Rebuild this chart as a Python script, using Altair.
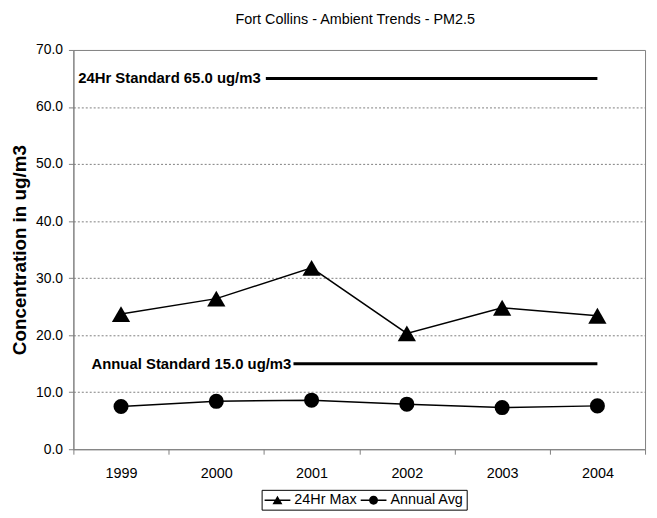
import altair as alt
import pandas as pd

# ---- data ----
years = [1999, 2000, 2001, 2002, 2003, 2004]
max_24hr = [23.7, 26.4, 31.8, 20.3, 24.8, 23.4]
annual_avg = [7.5, 8.4, 8.6, 7.9, 7.3, 7.6]
series_names = ["24Hr Max", "Annual Avg"]

std_labels = ["24Hr Standard 65.0 ug/m3", "Annual Standard 15.0 ug/m3"]
std_values = [65.0, 15.0]
std_label_x = [1998.55, 1998.69]
std_line_start = [2000.52, 2000.81]
std_line_end = [2004.0, 2004.0]

y_ticks = [0, 10, 20, 30, 40, 50, 60, 70]
x_ticks = [1998.5, 1999, 1999.5, 2000, 2000.5, 2001, 2001.5, 2002,
           2002.5, 2003, 2003.5, 2004, 2004.5]

FONT = "Liberation Sans, Arial, sans-serif"
GRAY = "#808080"

rows = []
for y, a, b in zip(years, max_24hr, annual_avg):
    rows.append({"year": y, "value": a, "series": series_names[0]})
    rows.append({"year": y, "value": b, "series": series_names[1]})
df = pd.DataFrame(rows)

std_df = pd.DataFrame({
    "label": std_labels,
    "value": std_values,
    "label_x": std_label_x,
    "start": std_line_start,
    "end": std_line_end,
})

xscale = alt.Scale(domain=[1998.5, 2004.5], nice=False, zero=False)
yscale = alt.Scale(domain=[0, 70], nice=False)

xaxis = alt.Axis(
    values=x_ticks,
    labelExpr="datum.value % 1 == 0 ? format(datum.value, 'd') : ''",
    tickOpacity={"condition": {"test": "datum.value % 1 != 0", "value": 1}, "value": 0},
    tickSize=5, tickColor=GRAY, domainColor=GRAY,
    grid=False, title=None, labelOverlap=False, labelFlush=False,
    labelFont=FONT, labelFontSize=14.5, labelColor="black", labelPadding=13,
)
yaxis = alt.Axis(
    values=y_ticks, format=".1f",
    tickSize=5, tickColor=GRAY, domainColor=GRAY,
    labelFont=FONT, labelFontSize=14, labelColor="black", labelPadding=6,
    grid=True, gridColor=GRAY, gridDash=[2, 2], gridWidth=1,
    gridOpacity={"condition": {"test": "datum.value == 0 || datum.value == 70", "value": 0}, "value": 1},
    title="Concentration in ug/m3", titleFont=FONT, titleFontSize=19,
    titleFontWeight="bold", titleColor="black", titlePadding=6,
)

X = alt.X("year:Q", scale=xscale, axis=xaxis)
Y = alt.Y("value:Q", scale=yscale, axis=yaxis)

base = alt.Chart(df).encode(x=X, y=Y)

lines = base.mark_line(color="black", strokeWidth=1.5).encode(detail="series:N")

points = base.mark_point(filled=True, color="black", opacity=1).encode(
    shape=alt.Shape("series:N",
                    scale=alt.Scale(domain=series_names, range=["triangle-up", "circle"]),
                    legend=None),
    size=alt.Size("series:N",
                  scale=alt.Scale(domain=series_names, range=[340, 230]),
                  legend=None),
)

# legend glyphs: a thin bar (the line) with the marker on it, all as filled shapes
tri_path = ("M-1,-0.1L2.47,-0.1L2.47,0.1L-1,0.1Z"
            "M0.73,-0.62L1.4,0.55L0.06,0.55Z")
circ_path = ("M-1,-0.1L2.47,-0.1L2.47,0.1L-1,0.1Z"
             "M1.33,0A0.6,0.6,0,1,1,0.13,0A0.6,0.6,0,1,1,1.33,0Z")

# legend-only layer: no rows drawn, the legend comes from the explicit domain
legend_layer = base.transform_filter("false").mark_point(
    filled=True, color="black", opacity=1
).encode(
    shape=alt.Shape("series:N",
                    scale=alt.Scale(domain=series_names, range=[tri_path, circ_path]),
                    legend=alt.Legend(
                        title=None, orient="none", direction="horizontal",
                        legendX=190, legendY=444,
                        strokeColor="black", padding=3,
                        labelFont=FONT, labelFontSize=14.5, labelColor="black",
                        symbolSize=225,
                        symbolFillColor="black", symbolStrokeColor="black",
                        symbolStrokeWidth=0,
                        labelOffset=15, columnPadding=4,
                    ))
)

std_rules = alt.Chart(std_df).mark_rule(color="black", strokeWidth=3).encode(
    x=alt.X("start:Q", scale=xscale, axis=xaxis),
    x2="end:Q",
    y=alt.Y("value:Q", scale=yscale, axis=yaxis),
)

std_text = alt.Chart(std_df).mark_text(
    align="left", baseline="middle", font=FONT, fontSize=15,
    fontWeight="bold", color="black",
).encode(
    x=alt.X("label_x:Q", scale=xscale, axis=xaxis),
    y=alt.Y("value:Q", scale=yscale, axis=yaxis),
    text="label:N",
)

chart = alt.layer(std_rules, std_text, lines, points, legend_layer).resolve_scale(
    shape="independent"
).properties(
    width=577, height=403,
    autosize="none",
    padding={"left": 66, "top": 40, "right": 4, "bottom": 60},
    title=alt.TitleParams(
        "Fort Collins - Ambient Trends - PM2.5",
        font=FONT, fontSize=14.5, fontWeight="normal", color="black",
        anchor="middle", offset=16, dx=-4,
    ),
).configure_view(stroke=GRAY, strokeWidth=1)

chart.save("out.html", embed_options={"renderer": "svg", "actions": False})
